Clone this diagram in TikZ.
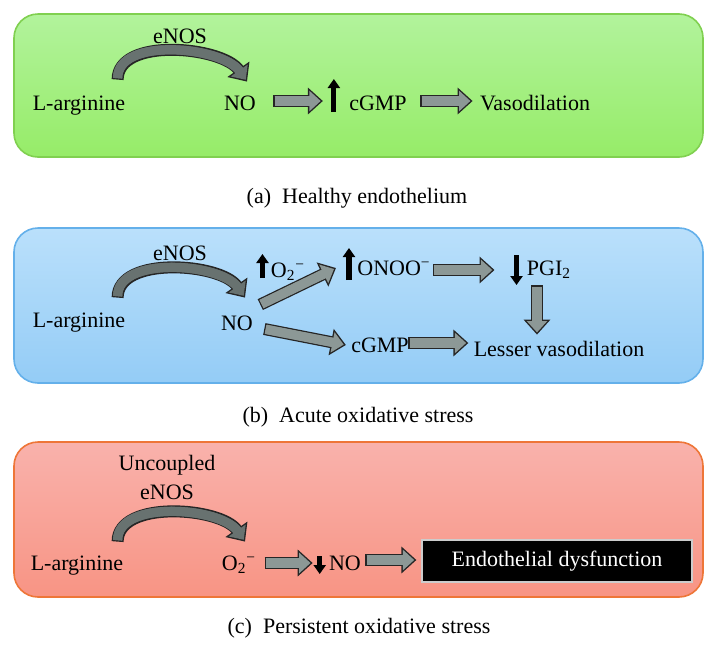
\documentclass[tikz,border=0pt]{standalone}
\usepackage{fontspec}
\setmainfont{Liberation Serif}
\usetikzlibrary{arrows.meta,calc,positioning}

\definecolor{grntop}{RGB}{178,243,156}
\definecolor{grnbot}{RGB}{150,236,104}
\definecolor{grnline}{RGB}{128,208,80}
\definecolor{blutop}{RGB}{186,224,251}
\definecolor{blubot}{RGB}{148,204,246}
\definecolor{bluline}{RGB}{100,176,234}
\definecolor{redtop}{RGB}{249,178,172}
\definecolor{redbot}{RGB}{248,148,132}
\definecolor{redline}{RGB}{238,118,56}
\definecolor{blockgray}{RGB}{140,152,150}
\definecolor{bendgray}{RGB}{104,114,112}

\tikzset{
  panel/.style={rounded corners=12pt, line width=0.8pt},
  lbl/.style={anchor=base, inner sep=2pt, text height=8pt, text depth=2pt},
  dysbox/.style={fill=black, draw=white!80!black, line width=0.6pt, text=white,
    minimum width=135pt, minimum height=21pt, inner sep=2pt},
  fatout/.style={line width=6pt, draw=black!85, -{Triangle[length=7.5pt,width=13pt]}},
  fatin/.style={line width=4.6pt, -{Triangle[length=5.7pt,width=10pt]},
    shorten >=1.1pt, shorten <=0.7pt},
  fatmid/.style={line width=4.6pt, shorten >=6.3pt, shorten <=0.7pt},
  updown/.style={line width=2.6pt, -{Triangle[length=4.5pt,width=6pt]}},
}

% block arrow: black outline, grey body
\newcommand{\fatarrow}[2][blockgray]{%
  \draw[fatout] #2;
  \draw[fatin, draw=#1] #2;
  \draw[fatmid, draw=#1] #2;}

\begin{document}
\begin{tikzpicture}[x=0.5pt, y=-0.5pt, font=\fontsize{11}{13}\selectfont]
\useasboundingbox (0,0) rectangle (718,670);

% (a) healthy
\draw[panel, draw=grnline, top color=grntop, bottom color=grnbot] (14,14) rectangle (703,157);
\node[lbl] (largA) at (79,110) {L-arginine};
\node[lbl] (enosA) at (180,43) {eNOS};
\node[lbl] (noA) at (240,110) {NO};
\node[lbl] (cgmpA) at (378,110) {cGMP};
\node[lbl] (vasoA) at (535,110) {Vasodilation};
\node[lbl] (capA) at (357,203) {(a)\ \ Healthy endothelium};
\fatarrow[bendgray]{([shift={(-6pt,5pt)}]largA.north east) to[out=90,in=125,looseness=.85] ([shift={(3.5pt,4pt)}]noA.north)}
\fatarrow{([shift={(6.5pt,1.5pt)}]noA.east) -- ([shift={(-11pt,1.5pt)}]cgmpA.west)}
\draw[updown] ([shift={(-5.5pt,-1pt)}]cgmpA.base west) -- ++(0,-33);
\fatarrow{([shift={(4.5pt,1.5pt)}]cgmpA.east) -- ([shift={(-1.5pt,1.5pt)}]vasoA.west)}

% (b) acute
\draw[panel, draw=bluline, top color=blutop, bottom color=blubot] (14,228) rectangle (703,383);
\node[lbl] (largB) at (79,327) {L-arginine};
\node[lbl] (enosB) at (180,260) {eNOS};
\node[lbl] (noB) at (237,330) {NO};
\node[lbl] (o2B) at (288,277) {O\textsubscript{2}\textsuperscript{−}};
\node[lbl] (onooB) at (394,275) {ONOO\textsuperscript{−}};
\node[lbl] (pgiB) at (549,275) {PGI\textsubscript{2}};
\node[lbl] (cgmpB) at (380,352) {cGMP};
\node[lbl] (lessB) at (559,356) {Lesser vasodilation};
\node[lbl] (capB) at (358,422) {(b)\ \ Acute oxidative stress};
\fatarrow[bendgray]{([shift={(-6pt,4.5pt)}]largB.north east) to[out=90,in=125,looseness=.85] ([shift={(4pt,6pt)}]noB.north)}
\draw[updown] ([shift={(-2pt,-0.5pt)}]o2B.base west) -- ++(0,-24);
\fatarrow{([shift={(1.5pt,2.5pt)}]noB.north east) -- ([shift={(-8.5pt,0.5pt)}]onooB.west)}
\draw[updown] ([shift={(-2pt,-2.5pt)}]onooB.base west) -- ++(0,-32);
\fatarrow{([shift={(3.5pt,-2.5pt)}]noB.east) -- ([shift={(-0.5pt,0.5pt)}]cgmpB.west)}
\fatarrow{([shift={(-1pt,-0.5pt)}]onooB.east) -- ([shift={(-14pt,-0.5pt)}]pgiB.west)}
\draw[updown] ([shift={(-3pt,10pt)}]pgiB.base west) -- ++(0,30);
\fatarrow{([shift={(-6pt,-1pt)}]pgiB.south) -- ([shift={(-11pt,0.5pt)}]lessB.north)}
\fatarrow{([shift={(-2.5pt,1.5pt)}]cgmpB.east) -- ([shift={(-0.5pt,3.5pt)}]lessB.west)}

% (c) persistent
\draw[panel, draw=redline, top color=redtop, bottom color=redbot] (14,442) rectangle (703,597);
\node[lbl] (uncC) at (167,470) {Uncoupled};
\node[lbl] (enosC) at (167,499) {eNOS};
\node[lbl] (largC) at (77,570) {L-arginine};
\node[lbl] (o2C) at (239,570) {O\textsubscript{2}\textsuperscript{−}};
\node[lbl] (noC) at (345,570) {NO};
\node[dysbox] (dysC) at (557,561) {Endothelial dysfunction};
\node[lbl] (capC) at (359,633) {(c)\ \ Persistent oxidative stress};
\fatarrow[bendgray]{([shift={(-5pt,4pt)}]largC.north east) to[out=90,in=125,looseness=.85] ([shift={(3pt,4pt)}]o2C.north)}
\fatarrow{([shift={(2pt,0.5pt)}]o2C.east) -- ([shift={(-6pt,0.5pt)}]noC.west)}
\draw[updown] ([shift={(-2.5pt,7pt)}]noC.base west) -- ++(0,18);
\fatarrow{([shift={(0pt,2pt)}]noC.east) -- ([shift={(-2.5pt,0.5pt)}]dysC.west)}
\end{tikzpicture}
\end{document}
